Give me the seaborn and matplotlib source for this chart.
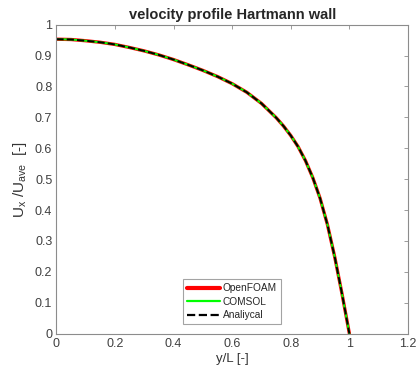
import matplotlib
matplotlib.use('Agg')
import matplotlib.pyplot as plt
import seaborn as sns
import pandas as pd

# values
y_over_L = [0.0, 0.05, 0.1, 0.15, 0.2, 0.25, 0.3, 0.35, 0.4, 0.45, 0.5, 0.55,
            0.6, 0.65, 0.7, 0.75, 0.775, 0.8, 0.825, 0.85, 0.875, 0.9, 0.925,
            0.95, 0.975, 1.0]
u_openfoam = [0.953, 0.952, 0.948, 0.943, 0.936, 0.926, 0.915, 0.902, 0.887,
              0.870, 0.852, 0.832, 0.809, 0.781, 0.745, 0.699, 0.672, 0.641,
              0.605, 0.560, 0.505, 0.438, 0.353, 0.248, 0.128, 0.0]
u_comsol = list(u_openfoam)
u_analytical = list(u_openfoam)

series = ['OpenFOAM', 'COMSOL', 'Analiycal']
colors = ['#ff0000', '#00ff00', '#000000']
widths = [2.4, 1.4, 1.4]
styles = ['-', '-', '--']

sns.set_style('white')
plt.rcParams['font.family'] = ['Liberation Sans', 'DejaVu Sans']
plt.rcParams['mathtext.fontset'] = 'custom'
plt.rcParams['mathtext.rm'] = 'Liberation Sans'
plt.rcParams['mathtext.it'] = 'Liberation Sans'

df = pd.DataFrame({'y': y_over_L * 3,
                   'u': u_openfoam + u_comsol + u_analytical,
                   'src': [s for s in series for _ in y_over_L]})

fig = plt.figure(figsize=(4.18, 3.74), dpi=100)
ax = fig.add_axes([0.135, 0.108, 0.841, 0.826])

for name, c, w, ls in zip(series, colors, widths, styles):
    sns.lineplot(data=df[df.src == name], x='y', y='u', ax=ax, color=c,
                 linewidth=w, linestyle=ls, label=name, sort=False)
for ln in ax.get_lines():
    ln.set_solid_joinstyle('round')
    ln.set_dash_joinstyle('round')

ax.set_xlim(0, 1.2)
ax.set_ylim(0, 1)
ax.set_xticks([0, 0.2, 0.4, 0.6, 0.8, 1, 1.2])
ax.set_xticklabels(['0', '0.2', '0.4', '0.6', '0.8', '1', '1.2'])
ax.set_yticks([i / 10 for i in range(11)])
ax.set_yticklabels(['0'] + ['0.%d' % i for i in range(1, 10)] + ['1'])

edge = '#8c8c8c'
for s in ax.spines.values():
    s.set_color(edge)
    s.set_linewidth(0.8)
ax.tick_params(direction='in', length=3, width=0.6, color=edge,
               labelsize=9, labelcolor='#404040', top=True, right=True, pad=3)

ax.set_xlabel('y/L [-]', fontsize=9.5, color='#333333', labelpad=2)
ax.set_ylabel(r'U$_{\mathregular{x}}$ /U$_{\mathregular{ave}}$  [-]', fontsize=11,
              color='#333333', labelpad=4)
ax.set_title('velocity profile Hartmann wall', fontsize=10.5, fontweight='bold', pad=4)

leg = ax.legend(loc='lower center', bbox_to_anchor=(0.5, 0.03), fontsize=7.3,
                frameon=True, fancybox=False, handlelength=3.2,
                borderpad=0.4, labelspacing=0.35, handletextpad=0.3,
                borderaxespad=0.0)
leg.get_frame().set_edgecolor(edge)
leg.get_frame().set_linewidth(0.8)
for h, w in zip(leg.get_lines(), [3.0, 1.6, 1.6]):
    h.set_linewidth(w)

fig.savefig('out.png', dpi=100)
